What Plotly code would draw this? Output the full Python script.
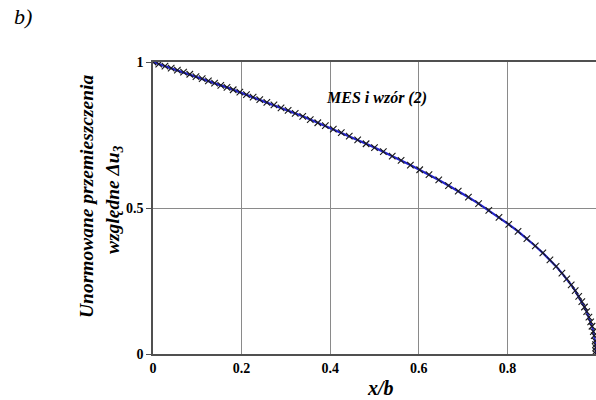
import plotly.graph_objects as go

# Data
x_vals = [0.000, 0.013, 0.027, 0.041, 0.055, 0.069, 0.083, 0.097, 0.111, 0.125,
          0.139, 0.153, 0.167, 0.181, 0.196, 0.211, 0.226, 0.241, 0.257, 0.273,
          0.289, 0.305, 0.321, 0.338, 0.355, 0.372, 0.389, 0.407, 0.425, 0.443,
          0.462, 0.481, 0.500, 0.520, 0.540, 0.560, 0.581, 0.602, 0.623, 0.645,
          0.667, 0.689, 0.712, 0.735, 0.758, 0.781, 0.803, 0.824, 0.844, 0.863,
          0.880, 0.896, 0.910, 0.923, 0.934, 0.944, 0.953, 0.961, 0.968, 0.974,
          0.979, 0.984, 0.988, 0.991, 0.994, 0.996, 0.998, 0.999, 0.9995, 0.9999, 1.000]
y_vals = [1.000, 0.993, 0.986, 0.979, 0.972, 0.965, 0.958, 0.950, 0.943, 0.935,
          0.928, 0.920, 0.913, 0.905, 0.897, 0.888, 0.880, 0.871, 0.862, 0.853,
          0.843, 0.834, 0.824, 0.814, 0.803, 0.792, 0.782, 0.770, 0.758, 0.746,
          0.733, 0.720, 0.707, 0.693, 0.678, 0.663, 0.647, 0.631, 0.614, 0.596,
          0.577, 0.558, 0.537, 0.515, 0.492, 0.468, 0.444, 0.420, 0.395, 0.370,
          0.346, 0.322, 0.300, 0.277, 0.257, 0.237, 0.217, 0.197, 0.179, 0.161,
          0.145, 0.126, 0.110, 0.095, 0.077, 0.063, 0.045, 0.032, 0.022, 0.010, 0.000]
x_ticks = [0, 0.2, 0.4, 0.6, 0.8]
x_tick_labels = ["0", "0.2", "0.4", "0.6", "0.8"]
y_ticks = [0, 0.5, 1]
y_tick_labels = ["0", "0.5", "1"]

SERIF = "Liberation Serif"

fig = go.Figure()
fig.add_trace(go.Scatter(
    x=x_vals, y=y_vals, mode="lines",
    line=dict(color="#2222cc", width=2.2),
    showlegend=False, hoverinfo="skip",
))
fig.add_trace(go.Scatter(
    x=x_vals, y=y_vals, mode="markers",
    marker=dict(symbol="x-thin", size=6.5, line=dict(color="#1a1a1a", width=1.1)),
    showlegend=False, hoverinfo="skip",
))

axis_font = dict(family=SERIF, size=14, color="black", weight="bold")
bi_font = lambda s: dict(family=SERIF, size=s, color="black", weight="bold", style="italic")

L, T, W, H = 153, 62, 443, 292

def px(xp):
    return (xp - L) / W

def py(yp):
    return (T + H - yp) / H

fig.update_layout(
    width=596, height=400,
    margin=dict(l=L, r=0, t=T, b=400 - T - H),
    paper_bgcolor="white", plot_bgcolor="white",
    font=dict(family=SERIF),
    xaxis=dict(
        range=[0, 1], tickvals=x_ticks, ticktext=x_tick_labels,
        showgrid=True, gridcolor="#8a8a8a", gridwidth=1,
        showline=True, linecolor="#505050", linewidth=1.5, mirror=True,
        ticks="", tickfont=axis_font, zeroline=False,
    ),
    yaxis=dict(
        range=[0, 1], tickvals=y_ticks, ticktext=y_tick_labels,
        showgrid=True, gridcolor="#8a8a8a", gridwidth=1,
        showline=True, linecolor="#505050", linewidth=1.5, mirror=False,
        ticks="outside", ticklen=5, tickcolor="#505050",
        tickfont=axis_font, zeroline=False,
    ),
    annotations=[
        dict(text="MES i wzór (2)", x=0.505, y=0.877, xref="x", yref="y",
             showarrow=False, xanchor="center", yanchor="middle", font=bi_font(16)),
        dict(text="b)", x=px(23), y=py(17), xref="paper", yref="paper",
             showarrow=False, xanchor="center", yanchor="middle",
             font=dict(family=SERIF, size=22, color="black", style="italic")),
        dict(text="x/b", x=px(380), y=py(388), xref="paper", yref="paper",
             showarrow=False, xanchor="center", yanchor="middle", font=bi_font(20)),
        dict(text="Unormowane przemieszczenia", x=px(86), y=py(197),
             xref="paper", yref="paper", showarrow=False, textangle=-90,
             xanchor="center", yanchor="middle", font=bi_font(19.5)),
        dict(text="względne Δu<sub>3</sub>", x=px(114), y=py(200),
             xref="paper", yref="paper", showarrow=False, textangle=-90,
             xanchor="center", yanchor="middle", font=bi_font(19.5)),
    ],
)

fig.write_html("out.html")
